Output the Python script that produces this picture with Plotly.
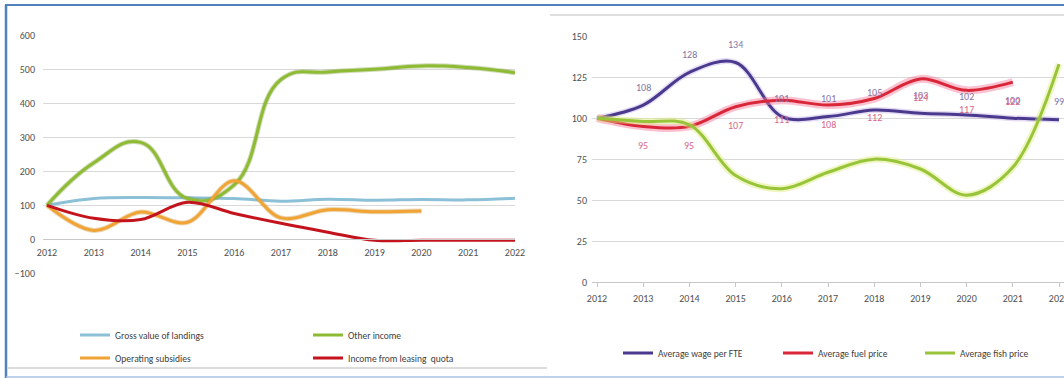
import plotly.graph_objects as go

# ---------------- data ----------------
years = list(range(2012, 2023))
year_ticks = [str(y) for y in years]

# Left panel: income components, index 2012 = 100
gross_value_landings = [100, 120, 123, 122, 120, 112, 118, 115, 117, 116, 121]
other_income = [100, 225, 285, 120, 160, 470, 492, 500, 510, 505, 490]
operating_subsidies = [100, 26, 80, 50, 172, 63, 87, 81, 83]          # 2012-2020
leasing_quota_income = [100, 62, 58, 109, 76, 47, 21, -3, -3, -3, -3]

# Right panel: cost and price indices, 2012 = 100
avg_wage_fte = [100, 108, 128, 134, 101, 101, 105, 103, 102, 100, 99]
avg_fuel_price = [100, 95, 95, 107, 111, 108, 112, 124, 117, 122]    # 2012-2021
avg_fish_price = [100, 98, 96, 65, 57, 67, 75, 69, 53, 70, 133]

left_yticks = [-100, 0, 100, 200, 300, 400, 500, 600]
right_yticks = [0, 25, 50, 75, 100, 125, 150]

# ---------------- helpers ----------------
W, H = 1064, 378
FONT = "Carlito, Calibri, 'Liberation Sans', Arial, sans-serif"
TXT = "#505050"
GRID = "#d9d9d9"


def px(x):
    return x / W


def py(y):
    return 1 - y / H


def x_range(p_first, p_last, d0, d1, first=2012, last=2022):
    per = (p_last - p_first) / (last - first)
    return [first + (d0 - p_first) / per, first + (d1 - p_first) / per]


fig = go.Figure()


def add_series(x, y, color, name, xa, ya, legend, width=3.0, halo=None, halo_w=7, smoothing=1.0):
    if halo:
        fig.add_trace(go.Scatter(
            x=x, y=y, mode="lines", xaxis=xa, yaxis=ya,
            line=dict(color=halo, width=halo_w, shape="spline", smoothing=smoothing),
            showlegend=False, hoverinfo="skip"))
    fig.add_trace(go.Scatter(
        x=x, y=y, mode="lines", name=name, xaxis=xa, yaxis=ya, legend=legend,
        line=dict(color=color, width=width, shape="spline", smoothing=smoothing)))


# ---- left panel ----
add_series(years, gross_value_landings, "#8cc0d6", "Gross value of landings", "x", "y", "legend")
add_series(years, other_income, "#8dbb34", "Other income", "x", "y", "legend2",
           halo="rgba(120,150,40,0.35)", halo_w=5, smoothing=1.3)
add_series(years[:len(operating_subsidies)], operating_subsidies, "#f0a436",
           "Operating subsidies", "x", "y", "legend3",
           halo="rgba(200,140,40,0.35)", halo_w=5)
add_series(years, leasing_quota_income, "#c3141d", "Income from leasing  quota", "x", "y", "legend4")

# ---- right panel ----
add_series(years, avg_wage_fte, "#4a3a8e", "Average wage per FTE", "x2", "y2", "legend5",
           halo="rgba(170,140,220,0.3)", halo_w=6)
add_series(years[:len(avg_fuel_price)], avg_fuel_price, "#d92638", "Average fuel price",
           "x2", "y2", "legend6", halo="rgba(245,120,150,0.45)", halo_w=8)
add_series(years, avg_fish_price, "#98c43a", "Average fish price", "x2", "y2", "legend7",
           halo="rgba(220,235,120,0.45)", halo_w=7)

# value labels on the right panel
annotations = []
for yr, v in zip(years[1:], avg_wage_fte[1:]):
    annotations.append(dict(x=yr, y=v, xref="x2", yref="y2", text=str(v), showarrow=False,
                            yshift=18, font=dict(family=FONT, size=10, color="#8475a6")))
for yr, v in zip(years[1:len(avg_fuel_price)], avg_fuel_price[1:]):
    annotations.append(dict(x=yr, y=v, xref="x2", yref="y2", text=str(v), showarrow=False,
                            yshift=-19, font=dict(family=FONT, size=10, color="#d8668a")))

# ---------------- frame lines ----------------
shapes = [
    dict(type="line", xref="paper", yref="paper", x0=px(5), x1=1, y0=py(5), y1=py(5),
         line=dict(color="#4f81bd", width=2)),
    dict(type="line", xref="paper", yref="paper", x0=px(6), x1=px(6), y0=py(5), y1=0,
         line=dict(color="#4f81bd", width=2.5)),
    dict(type="line", xref="paper", yref="paper", x0=px(8), x1=px(547), y0=py(368), y1=py(368),
         line=dict(color="#dcdcdc", width=2)),
    dict(type="line", xref="paper", yref="paper", x0=px(6), x1=1, y0=py(377), y1=py(377),
         line=dict(color="#a9c1e3", width=1.5)),
    dict(type="line", xref="paper", yref="paper", x0=px(550), x1=1, y0=py(15), y1=py(15),
         line=dict(color="#d4d4d4", width=1.5)),
]

legend_common = dict(bgcolor="rgba(0,0,0,0)", font=dict(family=FONT, size=9.5, color="#404040"),
                     itemwidth=30, xanchor="left", yanchor="middle", tracegroupgap=0)


def leg(x_line, y_line):
    d = dict(legend_common)
    d.update(x=px(x_line - 7), y=py(y_line))
    return d


left_dom = [43, 515]
right_dom = [592, 1064]
tick_font = dict(family=FONT, size=10, color=TXT)

fig.update_layout(
    width=W, height=H, margin=dict(l=0, r=0, t=0, b=0, autoexpand=False),
    paper_bgcolor="white", plot_bgcolor="white",
    font=dict(family=FONT, size=9, color=TXT),
    showlegend=True,
    xaxis=dict(domain=[px(left_dom[0]), px(left_dom[1])],
               range=x_range(47, 515, left_dom[0], left_dom[1]),
               anchor="free", position=py(239.3), automargin=False, ticklabeloverflow="allow",
               tickmode="array", tickvals=years, ticktext=year_ticks,
               showgrid=False, zeroline=False, showline=True, linecolor="#c8c8c8", linewidth=1,
               ticks="", ticklabelstandoff=4, tickfont=tick_font),
    yaxis=dict(domain=[py(273.3), py(35.3)], range=[-100, 600], anchor="x", automargin=False,
               tickmode="array", tickvals=left_yticks,
               showgrid=True, gridcolor=GRID, gridwidth=1, zeroline=False, showline=False,
               ticklabelstandoff=7, tickfont=tick_font),
    xaxis2=dict(domain=[px(right_dom[0]), px(right_dom[1])],
                range=x_range(597, 1059, right_dom[0], right_dom[1]),
                anchor="y2", automargin=False, ticklabeloverflow="allow",
                tickmode="array", tickvals=years, ticktext=year_ticks,
                showgrid=False, zeroline=False, showline=True, linecolor="#c8c8c8", linewidth=1,
                ticks="outside", ticklen=4, tickcolor="#c8c8c8", ticklabelstandoff=3,
                tickfont=tick_font),
    yaxis2=dict(domain=[py(282), py(36.3)], range=[0, 150], anchor="x2", automargin=False,
                tickmode="array", tickvals=right_yticks,
                showgrid=True, gridcolor=GRID, gridwidth=1, zeroline=False, showline=False,
                ticklabelstandoff=4, tickfont=tick_font),
    legend=leg(82, 335),
    legend2=leg(315, 335),
    legend3=leg(82, 358),
    legend4=leg(315, 358),
    legend5=leg(625, 353),
    legend6=leg(785, 353),
    legend7=leg(927, 353),
    shapes=shapes,
    annotations=annotations,
)

fig.write_html("out.html")
